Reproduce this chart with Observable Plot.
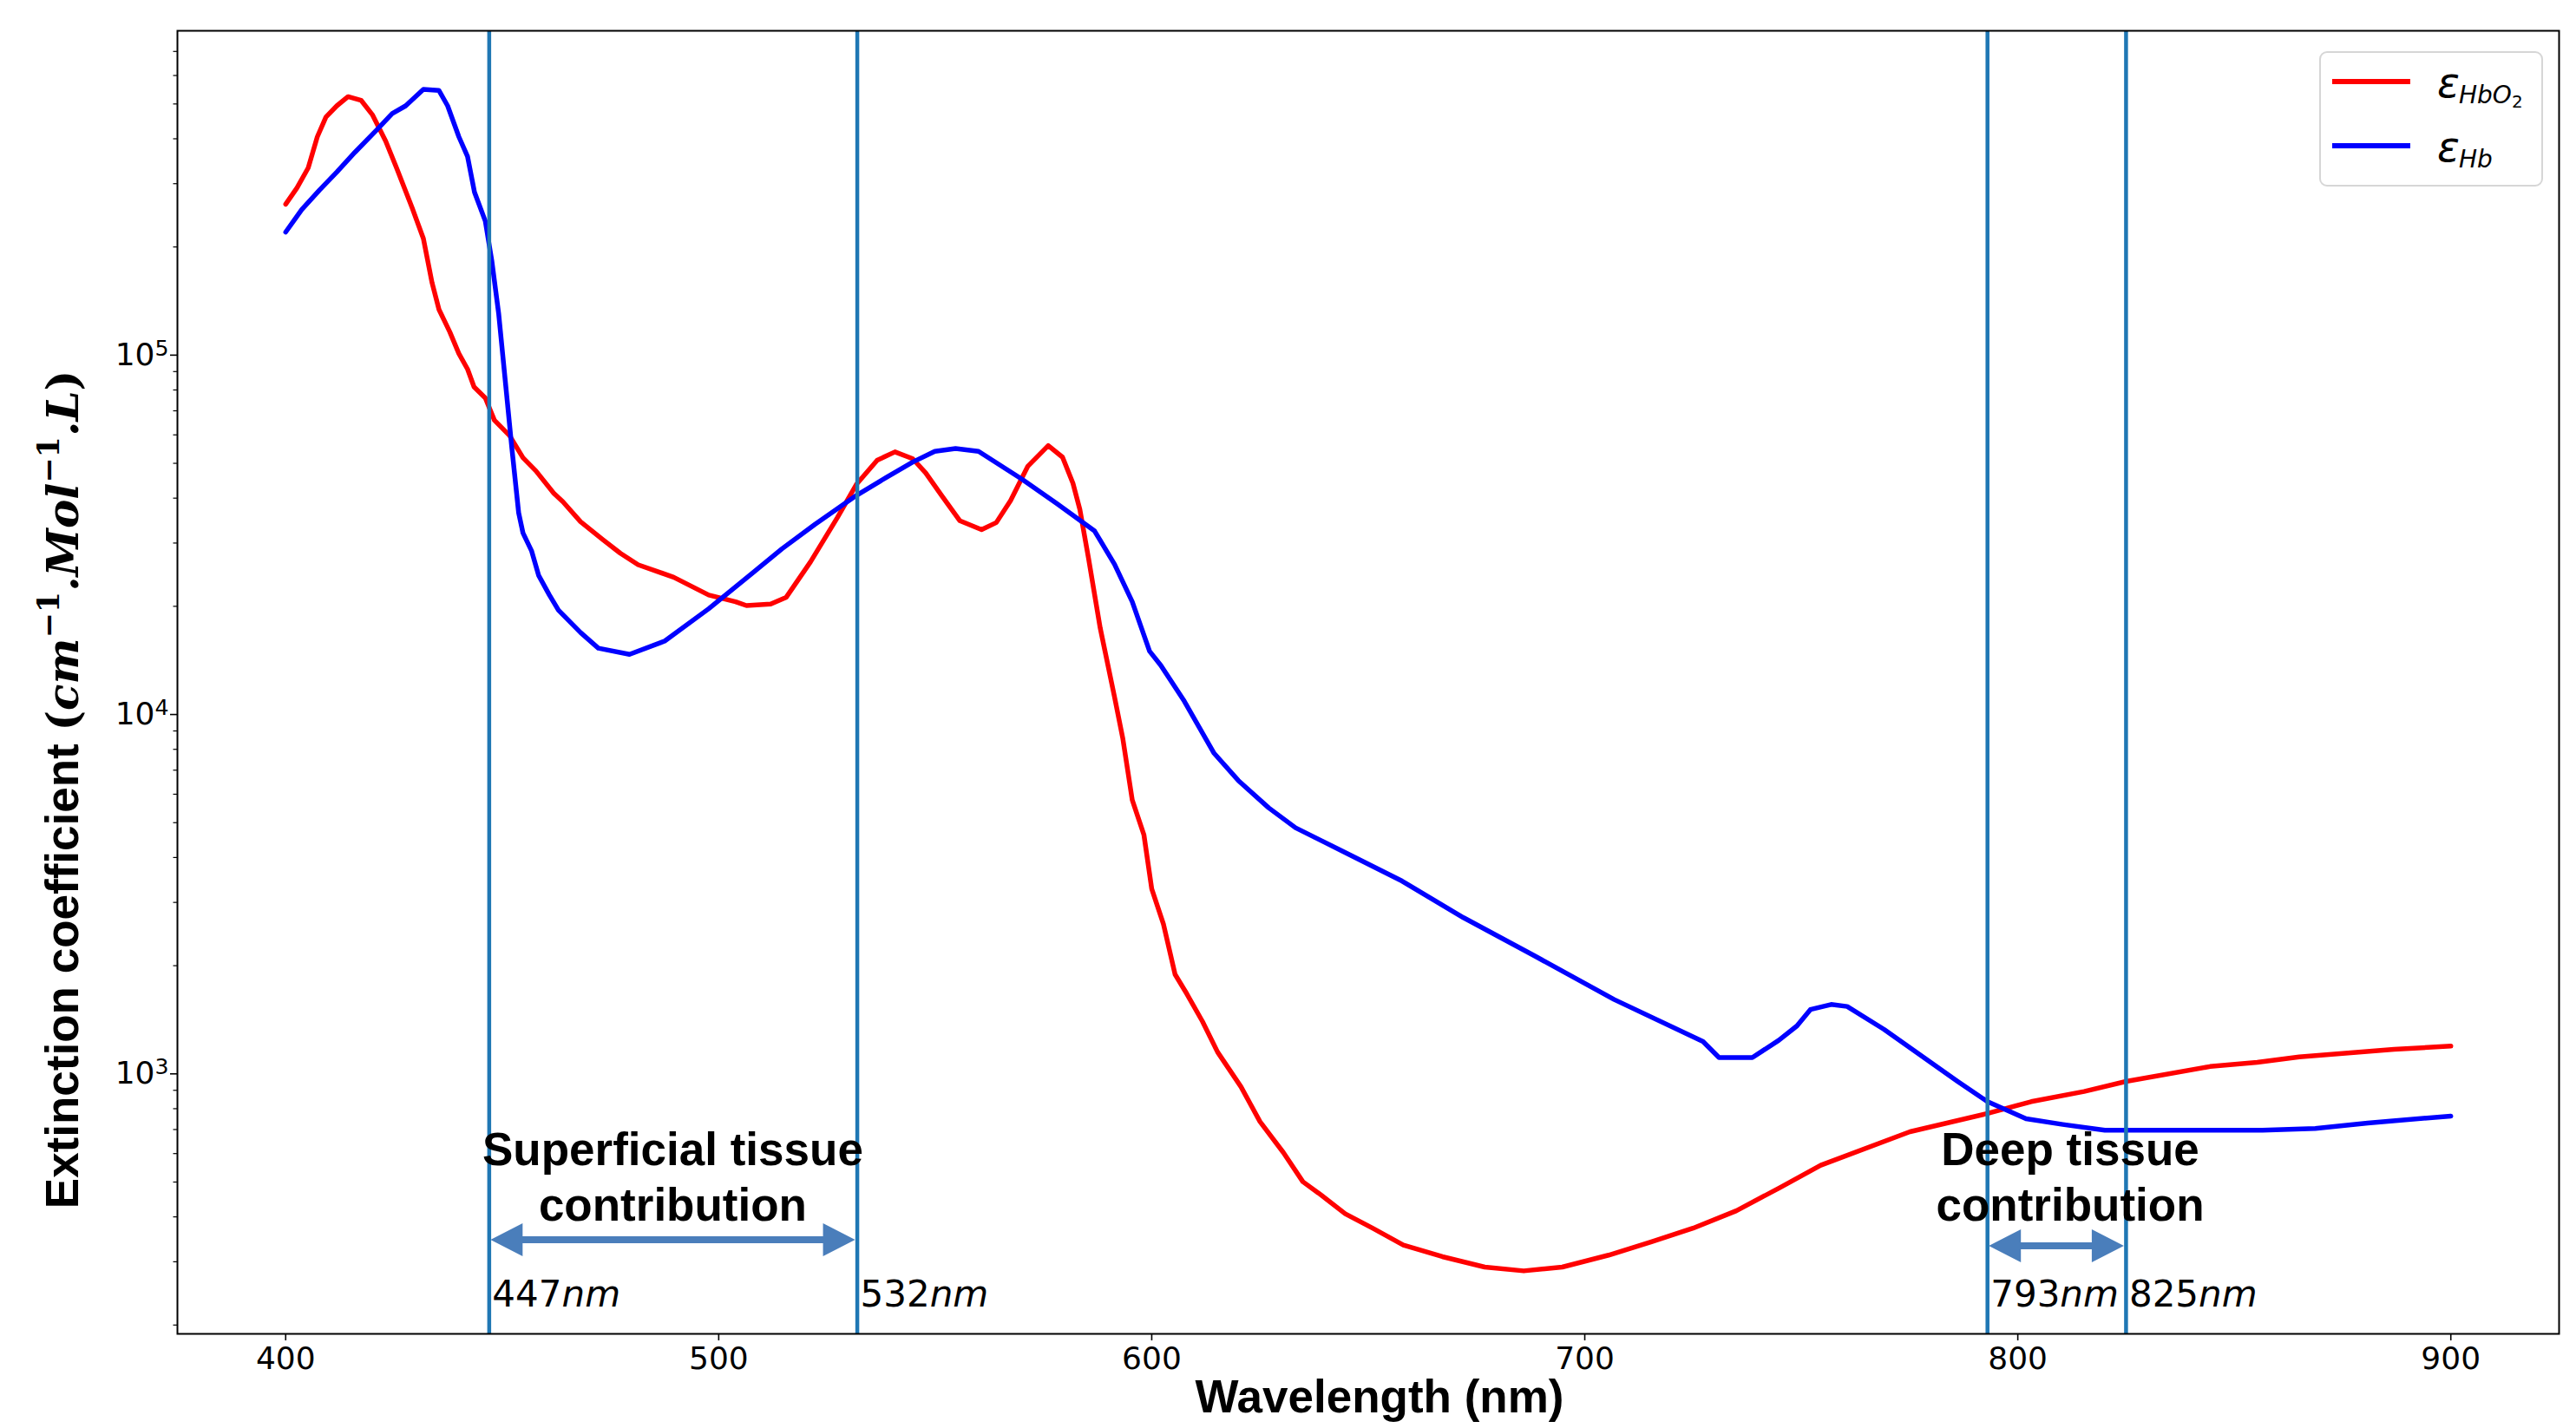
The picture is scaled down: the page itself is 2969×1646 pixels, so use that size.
<!DOCTYPE html>
<html><head><meta charset="utf-8">
<script src="https://cdn.jsdelivr.net/npm/d3@7"></script>
<script src="https://cdn.jsdelivr.net/npm/@observablehq/plot@0.6"></script>
<style>
html,body{margin:0;padding:0;background:#fff;}
#chart svg{display:block;}
</style></head><body><div id="chart"></div>
<script>
// ---- data ----
const wlHbO2 = [400,402.6,405.2,407.3,409.3,411.8,414.4,417.4,420,423.1,425.6,429.2,431.8,433.8,435.4,437.9,440,442,443.5,446.1,448.2,451.7,454.8,457.8,461.9,464,468.1,473.2,477.3,481.4,489.6,497.7,503.9,506.4,512,515.6,521.2,527.4,531.8,536.6,540.7,544.8,547.8,551.4,555.7,560.7,564.1,567.4,571.4,576.1,579.4,581.8,583.4,585.4,588.1,591.4,593.3,595.5,598.2,600,602.7,605.4,608.1,611.7,615.2,620.6,625,630.4,634.9,638.5,644.7,651,658.1,667.1,676.9,685.9,694.8,705.5,715.4,725,735,745,754.5,775.1,793.4,803.1,815.3,825,844.4,855.3,865,886.9,900];
const epsHbO2 = [263000,292000,332000,405000,460000,494000,524000,512000,467000,394000,332000,257000,211000,159000,134000,116000,101000,91400,81600,76000,65900,59700,51800,47600,41300,39100,34400,30700,28100,26100,24100,21500,20600,20100,20300,21200,26600,35300,43700,51000,53800,51500,47000,40800,34600,32700,34200,39400,49100,56000,52000,44000,37200,27200,17400,11200,8600,5780,4620,3270,2610,1890,1670,1400,1150,921,736,604,501,466,408,372,334,310,290,283,290,313,341,372,416,482,557,690,778,837,893,953,1048,1077,1115,1170,1195];
const wlHb = [400,403.7,407.8,411.8,416,421,424.6,427.7,431.8,435.4,437.4,440,442,443.6,446.1,447.6,449.2,450.7,452.2,453.8,454.8,456.8,458.4,460.9,463,468.1,472.2,479.4,487.5,497.7,507.9,514.6,522.2,531.8,538.6,544.8,549.9,554.7,560,570,578.1,586.8,591.4,595.5,599.5,602.1,607.5,614.4,620,627,633.2,644.5,657.8,672,688.4,706.8,727.3,731,738.7,744.8,749,752.1,756.9,760.6,769.1,777.6,786.1,793,801.9,810.4,820.1,856.5,868.7,880.8,900];
const epsHb = [220000,254000,288000,323000,367000,423000,470000,494000,549000,545000,494000,405000,357000,284000,236000,183000,130000,85000,55600,36400,32000,28500,24400,21500,19500,16900,15300,14700,16000,19700,24800,28900,33800,40700,45600,50400,54000,55000,54000,45200,38600,32400,26200,20600,15000,13700,10900,7800,6550,5500,4840,4140,3440,2720,2130,1610,1230,1110,1110,1240,1360,1510,1560,1540,1330,1125,953,837,750,723,697,697,705,730,763];

const xTicks = [400,500,600,700,800,900];
const yMajorTicks = [1000,10000,100000];
const yMinorTicks = [200,300,400,500,600,700,800,900,2000,3000,4000,5000,6000,7000,8000,9000,20000,30000,40000,50000,60000,70000,80000,90000,200000,300000,400000,500000,600000,700000];
const markerLines = [447,532,793,825];
const regionFrom = [447,793];
const regionTo = [532,825];
const regionLine1 = ["Superficial tissue","Deep tissue"];
const regionLine2 = ["contribution","contribution"];
const seriesSub = ["HbO","Hb"];
const seriesSubSub = ["2",""];
const seriesColors = ["#ff0000","#0000ff"];
const xLabel = "Wavelength (nm)";

// ---- build ----
const hbo2 = wlHbO2.map((w,i)=>({wl:w, eps:epsHbO2[i]}));
const hb = wlHb.map((w,i)=>({wl:w, eps:epsHb[i]}));
const W = 2969, H = 1646;

const chart = Plot.plot({
  width: W, height: H,
  marginTop: 35, marginBottom: 109, marginLeft: 204, marginRight: 20,
  style: {fontFamily: "'DejaVu Sans', sans-serif", fontSize: "36px", background: "white", color: "black", overflow: "visible"},
  x: {domain: [375, 925], label: null},
  y: {type: "log", domain: [189, 799000], label: null},
  marks: [
    Plot.line(hbo2, {x: "wl", y: "eps", stroke: seriesColors[0], strokeWidth: 5.5, strokeLinejoin: "round"}),
    Plot.line(hb, {x: "wl", y: "eps", stroke: seriesColors[1], strokeWidth: 5.5, strokeLinejoin: "round"}),
    Plot.ruleX(markerLines, {stroke: "#1f77b4", strokeWidth: 4.5}),
    Plot.axisX({ticks: xTicks, tickSize: 8, tickPadding: 7, tickFormat: d => String(d), fontSize: 36, label: null, strokeWidth: 1.6}),
    Plot.axisY({ticks: yMinorTicks, tickSize: 4.5, tickFormat: () => "", label: null, strokeWidth: 1.2}),
    Plot.axisY({ticks: yMajorTicks, tickSize: 8, tickPadding: 2, tickFormat: d => "10^" + Math.round(Math.log10(d)), fontSize: 36, label: null, strokeWidth: 1.6}),
    Plot.frame({stroke: "#000", strokeWidth: 2})
  ]
});
document.getElementById("chart").appendChild(chart);

const svg = d3.select(chart);
// superscript exponents on y tick labels
svg.selectAll("text").each(function(){
  const t = d3.select(this);
  const s = t.text();
  if (/^10\^\d$/.test(s)) {
    const [b, e] = s.split("^");
    t.text(null);
    t.append("tspan").text(b);
    t.append("tspan").attr("dy", "-0.45em").attr("font-size", "0.7em").text(e);
  }
});

const xs = chart.scale("x");
const g = svg.append("g").attr("text-anchor", "start");

// nm labels
markerLines.forEach(v => {
  const t = g.append("text").attr("x", xs.apply(v) + 4).attr("y", 1506).attr("text-anchor", "start")
    .attr("font-family", "'DejaVu Sans', sans-serif").attr("font-size", 42).attr("fill", "#000");
  t.append("tspan").text(String(v));
  t.append("tspan").attr("font-style", "italic").text("nm");
});

// region arrows and labels
const arrowY = [1429, 1436];
const labelDx = [0, 16];
regionFrom.forEach((f, i) => {
  const x1 = xs.apply(f) + 2, x2 = xs.apply(regionTo[i]) - 2, y = arrowY[i];
  const hl = 37, hh = 19, t = 4;
  const p = `M${x1},${y} L${x1+hl},${y-hh} L${x1+hl},${y-t} L${x2-hl},${y-t} L${x2-hl},${y-hh} L${x2},${y} L${x2-hl},${y+hh} L${x2-hl},${y+t} L${x1+hl},${y+t} L${x1+hl},${y+hh} Z`;
  g.append("path").attr("d", p).attr("fill", "#4a7ebb");
  const cx = (xs.apply(f) + xs.apply(regionTo[i])) / 2 + labelDx[i];
  const txt = g.append("text").attr("text-anchor", "middle")
    .attr("font-family", "'Liberation Sans', Arial, sans-serif").attr("font-weight", "bold")
    .attr("font-size", 53).attr("fill", "#000");
  txt.append("tspan").attr("x", cx).attr("y", 1343).text(regionLine1[i]);
  txt.append("tspan").attr("x", cx).attr("y", 1407).text(regionLine2[i]);
});

// x label
g.append("text").attr("x", 1590).attr("y", 1628).attr("text-anchor", "middle")
  .attr("font-family", "'Liberation Sans', Arial, sans-serif").attr("font-weight", "bold")
  .attr("font-size", 53).attr("fill", "#000").text(xLabel);

// y label
const yl = g.append("text").attr("transform", "translate(90,910) rotate(-90)").attr("text-anchor", "middle")
  .attr("font-size", 53).attr("font-weight", "bold").attr("fill", "#000");
yl.append("tspan").attr("font-family", "'Liberation Sans', Arial, sans-serif").text("Extinction coefficient ");
const mf = "'DejaVu Serif', serif";
yl.append("tspan").attr("font-family", mf).attr("font-size", 50).text("(");
yl.append("tspan").attr("font-family", mf).attr("font-size", 50).attr("font-style", "italic").text("cm");
yl.append("tspan").attr("font-family", mf).attr("font-size", 35).attr("dy", -22).text("−1");
yl.append("tspan").attr("font-family", mf).attr("font-size", 50).attr("dy", 22).attr("font-style", "italic").text(".Mol");
yl.append("tspan").attr("font-family", mf).attr("font-size", 35).attr("dy", -22).text("−1");
yl.append("tspan").attr("font-family", mf).attr("font-size", 50).attr("dy", 22).attr("font-style", "italic").text(".L");
yl.append("tspan").attr("font-family", mf).attr("font-size", 50).text(")");

// legend
const lg = g.append("g");
lg.append("rect").attr("x", 2674).attr("y", 60).attr("width", 256).attr("height", 154).attr("rx", 8)
  .attr("fill", "#fff").attr("fill-opacity", 0.8).attr("stroke", "#d6d6d6").attr("stroke-width", 2);
[0, 1].forEach(i => {
  const ly = 94 + i * 74;
  lg.append("line").attr("x1", 2688).attr("x2", 2778).attr("y1", ly).attr("y2", ly)
    .attr("stroke", seriesColors[i]).attr("stroke-width", 6);
  const t = lg.append("text").attr("text-anchor", "start").attr("font-family", "'DejaVu Sans', sans-serif").attr("font-style", "italic").attr("fill", "#000");
  t.append("tspan").attr("x", 2809).attr("y", ly + 18).attr("font-size", 48).text("ε");
  t.append("tspan").attr("x", 2834).attr("y", ly + 25).attr("font-size", 28).text(seriesSub[i]);
  if (seriesSubSub[i]) t.append("tspan").attr("y", ly + 30).attr("font-size", 20).attr("font-style", "normal").text(seriesSubSub[i]);
});
</script>
</body></html>
